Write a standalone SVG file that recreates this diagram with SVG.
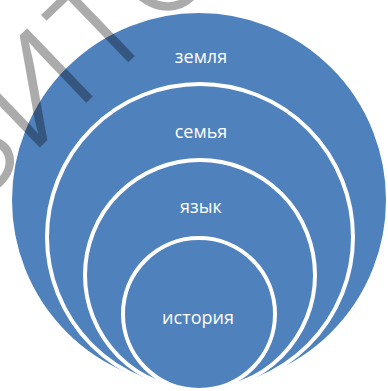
<svg xmlns="http://www.w3.org/2000/svg" width="388" height="391" viewBox="0 0 388 391">
<style>
.c{fill:#4f81bd;stroke:#ffffff;stroke-width:4}
.t{font-family:"Open Sans","Noto Sans",sans-serif;font-size:18px;fill:#ffffff;text-anchor:middle}
.wm{font-family:Inter,"Liberation Sans",sans-serif;font-weight:300;font-size:130px;fill:#000000;fill-opacity:0.33}
</style>
<rect width="388" height="391" fill="#ffffff"/>
<g id="zemlya"><circle class="c" cx="199" cy="200" r="189"/><text class="t" x="201" y="63">земля</text></g>
<g id="semya"><circle class="c" cx="200" cy="237" r="153"/><text class="t" x="201" y="138">семья</text></g>
<g id="yazyk"><circle class="c" cx="200" cy="275" r="115"/><text class="t" x="201" y="213">язык</text></g>
<g id="istoriya"><circle class="c" cx="199" cy="314" r="76"/><text class="t" x="198" y="324">история</text></g>
<g id="connectors"></g>
<text class="wm" transform="translate(-26,211) rotate(-44)">ЗИТО</text>
</svg>
